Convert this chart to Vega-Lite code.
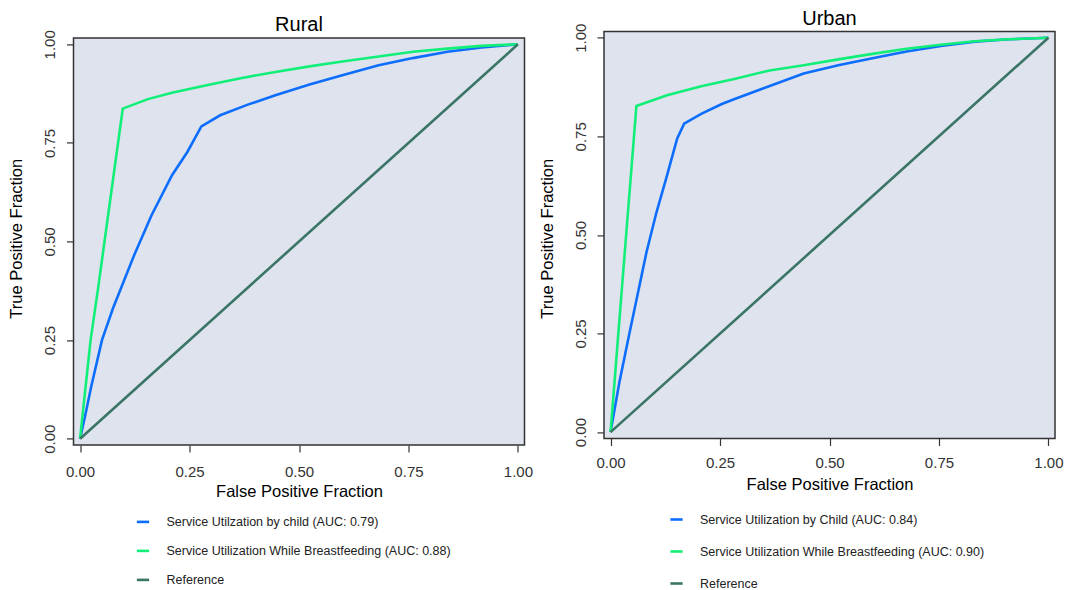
{
  "$schema": "https://vega.github.io/schema/vega-lite/v6.json",
  "background": "white",
  "padding": {"left": 8.5, "top": 8.4, "right": 5, "bottom": 5},
  "spacing": 5.5,
  "config": {
    "font": "Liberation Sans",
    "view": {"fill": null, "stroke": null},
    "title": {"fontSize": 20, "fontWeight": "normal", "color": "#000000", "offset": -5.5, "anchor": "middle"},
    "axis": {
      "grid": false, "domain": false, "tickSize": 7, "tickColor": "#333333", "tickWidth": 1.2,
      "labelFontSize": 15, "labelColor": "#333333", "labelFont": "Liberation Sans",
      "titleFontSize": 16.5, "titleFontWeight": "normal", "titleColor": "#000000", "titleFont": "Liberation Sans"
    },
    "legend": {
      "orient": "none", "title": null, "symbolType": "stroke", "symbolSize": 150, "symbolStrokeWidth": 3,
      "labelFontSize": 12.5, "labelColor": "#222222", "labelFont": "Liberation Sans", "labelOffset": 16, "labelLimit": 500
    }
  },
  "datasets": {
    "rural": [
      {"series": "Service Utilzation by child (AUC: 0.79)", "fpr": 0.0, "tpr": 0.0},
      {"series": "Service Utilzation by child (AUC: 0.79)", "fpr": 0.012, "tpr": 0.06},
      {"series": "Service Utilzation by child (AUC: 0.79)", "fpr": 0.025, "tpr": 0.13},
      {"series": "Service Utilzation by child (AUC: 0.79)", "fpr": 0.05, "tpr": 0.25},
      {"series": "Service Utilzation by child (AUC: 0.79)", "fpr": 0.075, "tpr": 0.33},
      {"series": "Service Utilzation by child (AUC: 0.79)", "fpr": 0.1, "tpr": 0.4},
      {"series": "Service Utilzation by child (AUC: 0.79)", "fpr": 0.123, "tpr": 0.464},
      {"series": "Service Utilzation by child (AUC: 0.79)", "fpr": 0.163, "tpr": 0.566},
      {"series": "Service Utilzation by child (AUC: 0.79)", "fpr": 0.21, "tpr": 0.668},
      {"series": "Service Utilzation by child (AUC: 0.79)", "fpr": 0.245, "tpr": 0.727},
      {"series": "Service Utilzation by child (AUC: 0.79)", "fpr": 0.277, "tpr": 0.792},
      {"series": "Service Utilzation by child (AUC: 0.79)", "fpr": 0.32, "tpr": 0.82},
      {"series": "Service Utilzation by child (AUC: 0.79)", "fpr": 0.383, "tpr": 0.847},
      {"series": "Service Utilzation by child (AUC: 0.79)", "fpr": 0.446, "tpr": 0.871},
      {"series": "Service Utilzation by child (AUC: 0.79)", "fpr": 0.524, "tpr": 0.898},
      {"series": "Service Utilzation by child (AUC: 0.79)", "fpr": 0.603, "tpr": 0.923},
      {"series": "Service Utilzation by child (AUC: 0.79)", "fpr": 0.682, "tpr": 0.947},
      {"series": "Service Utilzation by child (AUC: 0.79)", "fpr": 0.76, "tpr": 0.965},
      {"series": "Service Utilzation by child (AUC: 0.79)", "fpr": 0.839, "tpr": 0.981},
      {"series": "Service Utilzation by child (AUC: 0.79)", "fpr": 0.917, "tpr": 0.992},
      {"series": "Service Utilzation by child (AUC: 0.79)", "fpr": 1.0, "tpr": 1.0},
      {"series": "Service Utilization While Breastfeeding (AUC: 0.88)", "fpr": 0.0, "tpr": 0.0},
      {"series": "Service Utilization While Breastfeeding (AUC: 0.88)", "fpr": 0.024, "tpr": 0.25},
      {"series": "Service Utilization While Breastfeeding (AUC: 0.88)", "fpr": 0.041, "tpr": 0.38},
      {"series": "Service Utilization While Breastfeeding (AUC: 0.88)", "fpr": 0.0975, "tpr": 0.837},
      {"series": "Service Utilization While Breastfeeding (AUC: 0.88)", "fpr": 0.155, "tpr": 0.861},
      {"series": "Service Utilization While Breastfeeding (AUC: 0.88)", "fpr": 0.21, "tpr": 0.877},
      {"series": "Service Utilization While Breastfeeding (AUC: 0.88)", "fpr": 0.289, "tpr": 0.896},
      {"series": "Service Utilization While Breastfeeding (AUC: 0.88)", "fpr": 0.367, "tpr": 0.914},
      {"series": "Service Utilization While Breastfeeding (AUC: 0.88)", "fpr": 0.446, "tpr": 0.93},
      {"series": "Service Utilization While Breastfeeding (AUC: 0.88)", "fpr": 0.524, "tpr": 0.944},
      {"series": "Service Utilization While Breastfeeding (AUC: 0.88)", "fpr": 0.603, "tpr": 0.957},
      {"series": "Service Utilization While Breastfeeding (AUC: 0.88)", "fpr": 0.682, "tpr": 0.969},
      {"series": "Service Utilization While Breastfeeding (AUC: 0.88)", "fpr": 0.76, "tpr": 0.981},
      {"series": "Service Utilization While Breastfeeding (AUC: 0.88)", "fpr": 0.839, "tpr": 0.989},
      {"series": "Service Utilization While Breastfeeding (AUC: 0.88)", "fpr": 0.917, "tpr": 0.996},
      {"series": "Service Utilization While Breastfeeding (AUC: 0.88)", "fpr": 1.0, "tpr": 1.0},
      {"series": "Reference", "fpr": 0.0, "tpr": 0.0},
      {"series": "Reference", "fpr": 1.0, "tpr": 1.0}
    ],
    "urban": [
      {"series": "Service Utilization by Child (AUC: 0.84)", "fpr": 0.0, "tpr": 0.0},
      {"series": "Service Utilization by Child (AUC: 0.84)", "fpr": 0.02, "tpr": 0.126},
      {"series": "Service Utilization by Child (AUC: 0.84)", "fpr": 0.043, "tpr": 0.25},
      {"series": "Service Utilization by Child (AUC: 0.84)", "fpr": 0.062, "tpr": 0.35},
      {"series": "Service Utilization by Child (AUC: 0.84)", "fpr": 0.082, "tpr": 0.456},
      {"series": "Service Utilization by Child (AUC: 0.84)", "fpr": 0.105, "tpr": 0.558},
      {"series": "Service Utilization by Child (AUC: 0.84)", "fpr": 0.129, "tpr": 0.651},
      {"series": "Service Utilization by Child (AUC: 0.84)", "fpr": 0.152, "tpr": 0.744},
      {"series": "Service Utilization by Child (AUC: 0.84)", "fpr": 0.168, "tpr": 0.782},
      {"series": "Service Utilization by Child (AUC: 0.84)", "fpr": 0.207, "tpr": 0.807},
      {"series": "Service Utilization by Child (AUC: 0.84)", "fpr": 0.254, "tpr": 0.832},
      {"series": "Service Utilization by Child (AUC: 0.84)", "fpr": 0.285, "tpr": 0.845},
      {"series": "Service Utilization by Child (AUC: 0.84)", "fpr": 0.348, "tpr": 0.871},
      {"series": "Service Utilization by Child (AUC: 0.84)", "fpr": 0.441, "tpr": 0.909},
      {"series": "Service Utilization by Child (AUC: 0.84)", "fpr": 0.52, "tpr": 0.93},
      {"series": "Service Utilization by Child (AUC: 0.84)", "fpr": 0.598, "tpr": 0.948},
      {"series": "Service Utilization by Child (AUC: 0.84)", "fpr": 0.676, "tpr": 0.965},
      {"series": "Service Utilization by Child (AUC: 0.84)", "fpr": 0.754, "tpr": 0.979},
      {"series": "Service Utilization by Child (AUC: 0.84)", "fpr": 0.832, "tpr": 0.99},
      {"series": "Service Utilization by Child (AUC: 0.84)", "fpr": 0.91, "tpr": 0.996},
      {"series": "Service Utilization by Child (AUC: 0.84)", "fpr": 1.0, "tpr": 1.0},
      {"series": "Service Utilization While Breastfeeding (AUC: 0.90)", "fpr": 0.0, "tpr": 0.0},
      {"series": "Service Utilization While Breastfeeding (AUC: 0.90)", "fpr": 0.024, "tpr": 0.338},
      {"series": "Service Utilization While Breastfeeding (AUC: 0.90)", "fpr": 0.059, "tpr": 0.827},
      {"series": "Service Utilization While Breastfeeding (AUC: 0.90)", "fpr": 0.129, "tpr": 0.854},
      {"series": "Service Utilization While Breastfeeding (AUC: 0.90)", "fpr": 0.207, "tpr": 0.877},
      {"series": "Service Utilization While Breastfeeding (AUC: 0.90)", "fpr": 0.285, "tpr": 0.896},
      {"series": "Service Utilization While Breastfeeding (AUC: 0.90)", "fpr": 0.363, "tpr": 0.917},
      {"series": "Service Utilization While Breastfeeding (AUC: 0.90)", "fpr": 0.441, "tpr": 0.93},
      {"series": "Service Utilization While Breastfeeding (AUC: 0.90)", "fpr": 0.52, "tpr": 0.945},
      {"series": "Service Utilization While Breastfeeding (AUC: 0.90)", "fpr": 0.598, "tpr": 0.959},
      {"series": "Service Utilization While Breastfeeding (AUC: 0.90)", "fpr": 0.676, "tpr": 0.972},
      {"series": "Service Utilization While Breastfeeding (AUC: 0.90)", "fpr": 0.754, "tpr": 0.982},
      {"series": "Service Utilization While Breastfeeding (AUC: 0.90)", "fpr": 0.832, "tpr": 0.991},
      {"series": "Service Utilization While Breastfeeding (AUC: 0.90)", "fpr": 0.91, "tpr": 0.996},
      {"series": "Service Utilization While Breastfeeding (AUC: 0.90)", "fpr": 1.0, "tpr": 1.0},
      {"series": "Reference", "fpr": 0.0, "tpr": 0.0},
      {"series": "Reference", "fpr": 1.0, "tpr": 1.0}
    ]
  },
  "hconcat": [
    {
      "title": {"text": "Rural"},
      "width": 451,
      "height": 413.6,
      "layer": [
        {
          "data": {"values": [{}]},
          "mark": {"type": "rect", "fill": "#DFE3EE", "stroke": "#333333", "strokeWidth": 1.5},
          "encoding": {
            "x": {"datum": -0.015, "type": "quantitative",
                  "scale": {"domain": [-0.015, 1.015], "nice": false, "zero": false},
                  "axis": {"values": [0, 0.25, 0.5, 0.75, 1], "format": ".2f", "title": "False Positive Fraction", "labelPadding": 12, "titlePadding": 4}},
            "x2": {"datum": 1.015},
            "y": {"datum": -0.016, "type": "quantitative",
                  "scale": {"domain": [-0.016, 1.0327], "nice": false, "zero": false},
                  "axis": {"values": [0, 0.25, 0.5, 0.75, 1], "format": ".2f", "title": "True Positive Fraction", "labelAngle": -90, "labelAlign": "center", "labelBaseline": "bottom", "labelPadding": 9, "titlePadding": 18}},
            "y2": {"datum": 1.016}
          }
        },
        {
          "data": {"name": "rural"},
          "mark": {"type": "line", "strokeCap": "butt"},
          "encoding": {
            "x": {"field": "fpr", "type": "quantitative",
                  "scale": {"domain": [-0.015, 1.015], "nice": false, "zero": false},
                  "axis": {"values": [0, 0.25, 0.5, 0.75, 1], "format": ".2f", "title": "False Positive Fraction", "labelPadding": 12, "titlePadding": 4}},
            "y": {"field": "tpr", "type": "quantitative",
                  "scale": {"domain": [-0.016, 1.0327], "nice": false, "zero": false},
                  "axis": {"values": [0, 0.25, 0.5, 0.75, 1], "format": ".2f", "title": "True Positive Fraction", "labelAngle": -90, "labelAlign": "center", "labelBaseline": "bottom", "labelPadding": 9, "titlePadding": 18}},
            "color": {"field": "series", "type": "nominal",
                      "scale": {"domain": ["Service Utilzation by child (AUC: 0.79)", "Service Utilization While Breastfeeding (AUC: 0.88)", "Reference"], "range": ["#0D6EFD", "#12EF78", "#3A7566"]},
                      "legend": {"legendX": 62, "legendY": 483, "rowPadding": 15}},
            "strokeWidth": {"field": "series", "type": "nominal",
                      "scale": {"domain": ["Service Utilzation by child (AUC: 0.79)", "Service Utilization While Breastfeeding (AUC: 0.88)", "Reference"], "range": [2.6, 2.6, 1.3]},
                      "legend": null}
          }
        }
      ]
    },
    {
      "title": {"text": "Urban"},
      "width": 451,
      "height": 413.6,
      "layer": [
        {
          "data": {"values": [{}]},
          "mark": {"type": "rect", "fill": "#DFE3EE", "stroke": "#333333", "strokeWidth": 1.5},
          "encoding": {
            "x": {"datum": -0.015, "type": "quantitative",
                  "scale": {"domain": [-0.015, 1.015], "nice": false, "zero": false},
                  "axis": {"values": [0, 0.25, 0.5, 0.75, 1], "format": ".2f", "title": "False Positive Fraction", "labelPadding": 10, "titlePadding": 6.5, "offset": -6.6}},
            "x2": {"datum": 1.015},
            "y": {"datum": -0.016, "type": "quantitative",
                  "scale": {"domain": [-0.0327, 1.016], "nice": false, "zero": false},
                  "axis": {"values": [0, 0.25, 0.5, 0.75, 1], "format": ".2f", "title": "True Positive Fraction", "labelAngle": -90, "labelAlign": "center", "labelBaseline": "bottom", "labelPadding": 9, "titlePadding": 18}},
            "y2": {"datum": 1.016}
          }
        },
        {
          "data": {"name": "urban"},
          "mark": {"type": "line", "strokeCap": "butt"},
          "encoding": {
            "x": {"field": "fpr", "type": "quantitative",
                  "scale": {"domain": [-0.015, 1.015], "nice": false, "zero": false},
                  "axis": {"values": [0, 0.25, 0.5, 0.75, 1], "format": ".2f", "title": "False Positive Fraction", "labelPadding": 10, "titlePadding": 6.5, "offset": -6.6}},
            "y": {"field": "tpr", "type": "quantitative",
                  "scale": {"domain": [-0.0327, 1.016], "nice": false, "zero": false},
                  "axis": {"values": [0, 0.25, 0.5, 0.75, 1], "format": ".2f", "title": "True Positive Fraction", "labelAngle": -90, "labelAlign": "center", "labelBaseline": "bottom", "labelPadding": 9, "titlePadding": 18}},
            "color": {"field": "series", "type": "nominal",
                      "scale": {"domain": ["Service Utilization by Child (AUC: 0.84)", "Service Utilization While Breastfeeding (AUC: 0.90)", "Reference"], "range": ["#0D6EFD", "#12EF78", "#3A7566"]},
                      "legend": {"legendX": 65, "legendY": 480.6, "rowPadding": 18}},
            "strokeWidth": {"field": "series", "type": "nominal",
                      "scale": {"domain": ["Service Utilization by Child (AUC: 0.84)", "Service Utilization While Breastfeeding (AUC: 0.90)", "Reference"], "range": [2.6, 2.6, 1.3]},
                      "legend": null}
          }
        }
      ]
    }
  ],
  "resolve": {"scale": {"color": "independent", "strokeWidth": "independent", "x": "independent", "y": "independent"}, "legend": {"color": "independent"}}
}
